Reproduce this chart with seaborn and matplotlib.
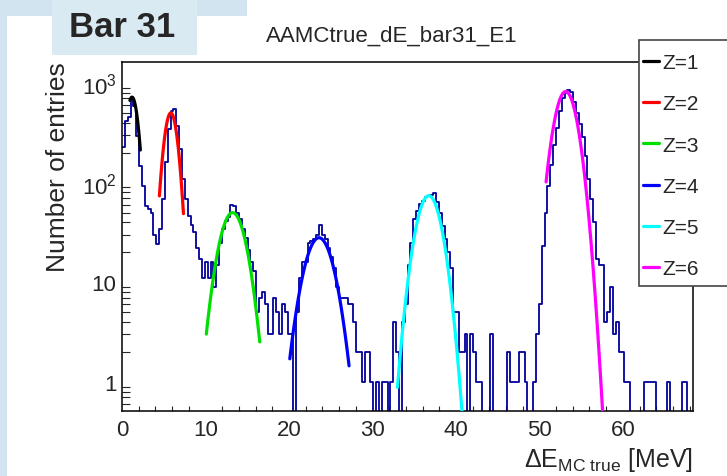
import numpy as np
import pandas as pd
import seaborn as sns
import matplotlib
matplotlib.use("Agg")
import matplotlib.pyplot as plt
from matplotlib.patches import Rectangle
from matplotlib.ticker import LogLocator, NullFormatter, MultipleLocator

# histogram contents, 200 bins between 0 and 68.4 MeV
counts = [
    227, 417, 452, 703, 590, 296, 147, 93, 58, 54,
    50, 30, 24, 34, 68, 160, 345, 520, 550, 370,
    218, 108, 68, 46, 38, 32, 22, 17, 11, 16,
    11, 16, 9, 15, 25, 34, 41, 45, 60, 58,
    50, 43, 34, 28, 21, 16, 13, 5, 7, 8,
    6, 3, 3, 7, 5, 3, 6, 5, 3, 3,
    0, 5, 11, 16, 16, 25, 26, 27, 30, 38,
    30, 27, 22, 18, 14, 9, 7, 7, 7, 6,
    6, 4, 2, 2, 1, 2, 2, 1, 0, 1,
    0, 1, 1, 0, 1, 4, 2, 0, 4, 6,
    15, 25, 43, 52, 61, 66, 71, 73, 75, 79,
    64, 50, 37, 27, 20, 14, 5, 5, 2, 2,
    3, 0, 3, 2, 1, 1, 0, 0, 0, 3,
    0, 0, 0, 0, 0, 2, 1, 1, 1, 2,
    2, 1, 0, 0, 1, 3, 6, 23, 50, 93,
    150, 240, 350, 520, 700, 800, 840, 810, 640, 500,
    385, 286, 186, 108, 68, 40, 17, 15, 15, 4,
    5, 9, 3, 4, 2, 2, 1, 1, 0, 0,
    0, 0, 0, 1, 1, 1, 1, 0, 0, 0,
    0, 1, 0, 0, 0, 0, 1, 1, 0, 0,
]
e_min, e_max = 0.0, 68.4

# gaussian fits per charge (amplitude, mean, sigma, fit range)
fit_z = [1, 2, 3, 4, 5, 6]
fit_colors = ["black", "#ff0000", "#00e000", "#0000ff", "#00ffff", "#ff00ff"]
fit_amp = [720, 500, 50, 28, 74, 820]
fit_mean = [1.2, 5.85, 13.25, 23.6, 36.75, 53.15]
fit_sigma = [0.64, 0.70, 1.33, 1.48, 1.26, 1.15]
fit_lo = [0.95, 4.48, 10.1, 20.1, 33.0, 50.8]
fit_hi = [2.2, 7.36, 16.5, 27.2, 41.0, 58.0]

sns.set_theme(style="white")
plt.rcParams["font.family"] = ["Liberation Sans", "DejaVu Sans"]
plt.rcParams["mathtext.fontset"] = "custom"
plt.rcParams["mathtext.rm"] = "Liberation Sans"
plt.rcParams["mathtext.it"] = "Liberation Sans:italic"
plt.rcParams["mathtext.bf"] = "Liberation Sans:bold"

W, H = 727, 477
fig = plt.figure(figsize=(W / 100, H / 100), dpi=100, facecolor="white")
ax = fig.add_axes([122 / W, 1 - 412 / H, (693 - 122) / W, (412 - 63) / H])

# slide decoration behind the plot
fig.add_artist(Rectangle((0, 1 - 17 / H), 247 / W, 17 / H, transform=fig.transFigure,
                         facecolor="#d2e4ef", edgecolor="none", zorder=-2))
fig.add_artist(Rectangle((0, 0), 7 / W, 1, transform=fig.transFigure,
                         facecolor="#d2e4ef", edgecolor="none", zorder=-2))
fig.add_artist(Rectangle((52 / W, 1 - 56 / H), 145 / W, 56 / H, transform=fig.transFigure,
                         facecolor="#daeaf3", edgecolor="none", zorder=-1))
fig.text(122 / W, 1 - 37 / H, "Bar 31", fontsize=25, fontweight="bold",
         ha="center", va="baseline")

hist_df = pd.DataFrame({
    "energy": np.linspace(e_min, e_max, 2 * len(counts) + 1)[1::2],
    "entries": counts,
})
sns.histplot(data=hist_df, x="energy", weights="entries", bins=len(counts),
             binrange=(e_min, e_max), element="step", fill=False,
             color="#000099", linewidth=1.3, ax=ax)

for z, c, a, m, s, lo, hi in zip(fit_z, fit_colors, fit_amp, fit_mean, fit_sigma, fit_lo, fit_hi):
    xs = np.linspace(lo, hi, 120)
    fit_df = pd.DataFrame({"energy": xs, "entries": a * np.exp(-0.5 * ((xs - m) / s) ** 2)})
    sns.lineplot(data=fit_df, x="energy", y="entries", color=c, linewidth=2.3,
                 label=f"Z={z}", ax=ax, zorder=3)

handles, labels = ax.get_legend_handles_labels()
ax.get_legend().remove()

ax.set_yscale("log")
ax.set_ylim(0.512, 1622)
ax.set_xlim(e_min, e_max)
ax.set_yticks([1, 10, 100, 1000], ["1", "10", "$10^{2}$", "$10^{3}$"])
ax.yaxis.set_minor_locator(LogLocator(base=10, subs=np.arange(2, 10)))
ax.yaxis.set_minor_formatter(NullFormatter())
ax.set_xticks(range(0, 61, 10))
ax.xaxis.set_minor_locator(MultipleLocator(2))
ax.tick_params(axis="y", which="major", direction="in", length=12, width=0.9, pad=4, labelsize=16)
ax.tick_params(axis="y", which="minor", direction="in", length=6, width=0.8, left=True)
ax.tick_params(axis="x", which="major", direction="in", length=7, width=0.9, pad=6, labelsize=16)
ax.tick_params(axis="x", which="minor", direction="in", length=3.5, width=0.8, bottom=True)
for sp in ax.spines.values():
    sp.set_color("black")
    sp.set_linewidth(1.1)

ax.set_ylabel("Number of entries", fontsize=19, loc="top")
ax.yaxis.set_label_coords(-52 / 571, 1.003)
ax.set_xlabel("ΔE$_{\\rm MC\\ true}$ [MeV]", fontsize=18, loc="right")
ax.xaxis.set_label_coords(1.0, -55 / 349)
ax.xaxis.label.set_va("baseline")

fig.text(392 / W, 1 - 42 / H, "AAMCtrue_dE_bar31_E1", fontsize=16, ha="center", va="baseline")

# legend box, partly running off the right border like in the original
fig.add_artist(Rectangle((639 / W, 1 - 287 / H), 121 / W, 246 / H, transform=fig.transFigure,
                         facecolor="white", edgecolor="#444444", linewidth=1.2, zorder=5))
leg = fig.legend(handles, labels, loc="upper left", bbox_to_anchor=(643 / W, 1 - 54 / H),
                 bbox_transform=fig.transFigure, frameon=False, fontsize=15, borderpad=0,
                 borderaxespad=0, handlelength=0.77, handletextpad=0.15, labelspacing=1.07)
leg.set_zorder(6)

fig.savefig("out.png", dpi=100)
